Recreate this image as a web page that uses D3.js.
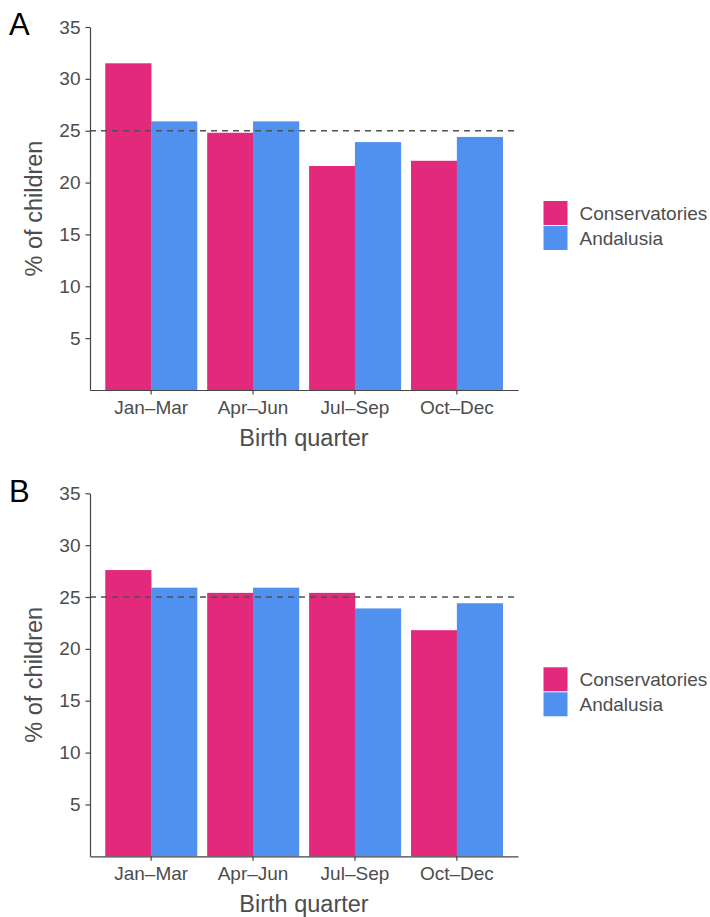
<!DOCTYPE html>
<html>
<head>
<meta charset="utf-8">
<script src="https://cdn.jsdelivr.net/npm/d3@7"></script>
<style>
  html, body { margin: 0; padding: 0; background: #fff; }
  svg { display: block; font-family: "Liberation Sans", Arial, Helvetica, sans-serif; }
</style>
</head>
<body>
<svg id="chart" width="710" height="917"></svg>
<script>
// ---- data ----
const categories = ["Jan–Mar", "Apr–Jun", "Jul–Sep", "Oct–Dec"];
const seriesNames = ["Conservatories", "Andalusia"];
const panelLabels = ["A", "B"];
const panelA_conservatories = [31.5, 24.8, 21.6, 22.1];
const panelA_andalusia      = [25.9, 25.9, 23.9, 24.4];
const panelB_conservatories = [27.6, 25.4, 25.4, 21.8];
const panelB_andalusia      = [25.9, 25.9, 23.9, 24.4];
const yTicks = [5, 10, 15, 20, 25, 30, 35];
const yMax = 35;
const referenceLine = 25;
const xTitle = "Birth quarter";
const yTitle = "% of children";

// ---- style ----
const colors = ["#e2297c", "#5091f0"];
const textColor = "#4d4d4d";
const axisColor = "#444";

const svg = d3.select("#chart");

const panels = [
  { label: panelLabels[0], series: [panelA_conservatories, panelA_andalusia], top: 27 },
  { label: panelLabels[1], series: [panelB_conservatories, panelB_andalusia], top: 493.3 }
];

const left = 90, right = 518, plotH = 363;

panels.forEach(p => {
  const g = svg.append("g");
  const bottom = p.top + plotH;

  const x = d3.scaleBand().domain(categories).range([left, right])
    .paddingInner(0.1).paddingOuter(0.15);
  const xSub = d3.scaleBand().domain(seriesNames).range([0, x.bandwidth()]).padding(0);
  const y = d3.scaleLinear().domain([0, yMax]).range([bottom, p.top]);

  // bars
  const rows = categories.map((c, i) => ({ cat: c, vals: seriesNames.map((s, j) => ({ s, j, v: p.series[j][i] })) }));
  g.selectAll("g.cat").data(rows).enter().append("g")
    .attr("transform", d => `translate(${x(d.cat)},0)`)
    .selectAll("rect").data(d => d.vals).enter().append("rect")
    .attr("x", d => xSub(d.s))
    .attr("width", xSub.bandwidth() + 0.3)
    .attr("y", d => y(d.v))
    .attr("height", d => y(0) - y(d.v))
    .attr("fill", d => colors[d.j]);

  // reference line
  g.append("line")
    .attr("x1", left).attr("x2", right)
    .attr("y1", y(referenceLine)).attr("y2", y(referenceLine))
    .attr("stroke", "#505050").attr("stroke-width", 1.6)
    .attr("stroke-dasharray", "6,5");

  // y axis
  const ya = g.append("g").attr("transform", `translate(${left},0)`)
    .call(d3.axisLeft(y).tickValues(yTicks).tickSize(4.5).tickSizeOuter(0).tickPadding(5));
  // x axis
  const xa = g.append("g").attr("transform", `translate(0,${bottom})`)
    .call(d3.axisBottom(x).tickSize(4.5).tickSizeOuter(0).tickPadding(6));

  [ya, xa].forEach(a => {
    a.select(".domain").attr("stroke", axisColor).attr("stroke-width", 1.2);
    a.selectAll(".tick line").attr("stroke", axisColor).attr("stroke-width", 1.2);
    a.selectAll(".tick text").attr("fill", textColor).style("font-size", "19px")
      .style("font-family", '"Liberation Sans", Arial, Helvetica, sans-serif');
  });
  xa.selectAll(".tick text").attr("dy", "0.72em");

  // axis titles
  g.append("text")
    .attr("x", (left + right) / 2).attr("y", bottom + 56)
    .attr("text-anchor", "middle").attr("fill", textColor)
    .style("font-size", "23.5px").text(xTitle);
  g.append("text")
    .attr("transform", `translate(42,${(p.top + bottom) / 2}) rotate(-90)`)
    .attr("text-anchor", "middle").attr("fill", textColor)
    .style("font-size", "23.5px").text(yTitle);

  // panel label
  g.append("text")
    .attr("x", 9).attr("y", p.top + 8.2)
    .attr("fill", "#000").style("font-size", "31px").text(p.label);

  // legend
  const lg = g.append("g").attr("transform", `translate(543.5,${p.top + 174})`);
  seriesNames.forEach((s, j) => {
    lg.append("rect").attr("x", 0).attr("y", j * 25).attr("width", 24).attr("height", 24)
      .attr("fill", colors[j]);
    lg.append("text").attr("x", 36).attr("y", j * 25 + 12).attr("dy", "0.35em")
      .attr("fill", textColor).style("font-size", "19px").text(s);
  });
});
</script>
</body>
</html>
